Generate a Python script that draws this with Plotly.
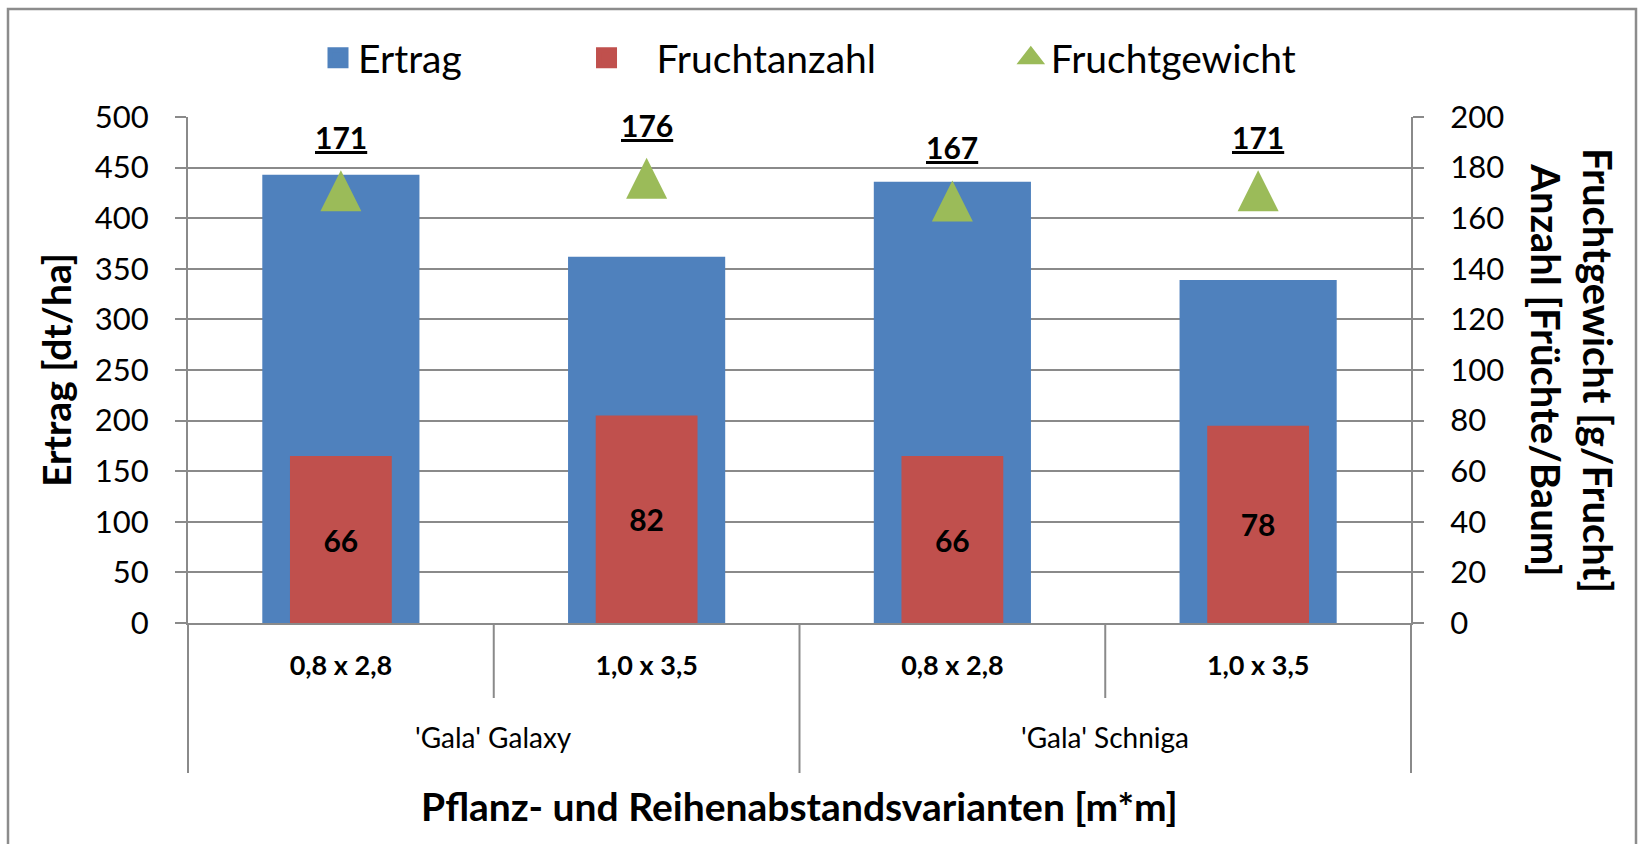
import plotly.graph_objects as go

# ---------------- data ----------------
groups = ["'Gala' Galaxy", "'Gala' Galaxy", "'Gala' Schniga", "'Gala' Schniga"]
spacings = ["0,8 x 2,8", "1,0 x 3,5", "0,8 x 2,8", "1,0 x 3,5"]
ertrag = [443, 362, 436, 339]            # dt/ha (left axis)
fruchtanzahl = [66, 82, 66, 78]          # Früchte/Baum (right axis)
fruchtgewicht = [171, 176, 167, 171]     # g/Frucht (right axis)
left_ticks = [0, 50, 100, 150, 200, 250, 300, 350, 400, 450, 500]
right_ticks = [0, 20, 40, 60, 80, 100, 120, 140, 160, 180, 200]

# ---------------- style ----------------
FONT = "Lato, 'Open Sans', 'Noto Sans', sans-serif"
BLUE = "#4F81BD"
RED = "#C0504D"
GREEN = "#9BBB59"
GRID = "#8A8A8A"
TXT = "#000000"
NB = "\u00a0"

W, H = 1642, 844
ML, MR, MT, MB = 188, 231, 117, 221
PW, PH = W - ML - MR, H - MT - MB

def px_x(p):
    return (p - ML) / PW

def px_y(p):
    return (H - MB - p) / PH

xs = list(range(len(spacings)))
n = len(xs)

fig = go.Figure()

fig.add_trace(go.Bar(
    x=xs, y=ertrag, name="Ertrag", yaxis="y",
    marker=dict(color=BLUE, line=dict(width=0)), width=0.514,
    showlegend=False, hoverinfo="y"))

fig.add_trace(go.Bar(
    x=xs, y=fruchtanzahl, name="Fruchtanzahl", yaxis="y2",
    marker=dict(color=RED, line=dict(width=0)), width=0.333,
    text=[f"<b>{v}</b>" for v in fruchtanzahl], textposition="inside",
    insidetextanchor="middle", textangle=0, constraintext="none",
    textfont=dict(family=FONT, size=30, color=TXT),
    showlegend=False, hoverinfo="y"))

# triangle of equal width and height, centred on the value
fig.add_trace(go.Scatter(
    x=xs, y=fruchtgewicht, name="Fruchtgewicht", yaxis="y2", mode="markers",
    marker=dict(symbol="arrow-down", angle=180, size=41, color=GREEN, standoff=20,
                line=dict(width=0)),
    showlegend=False, hoverinfo="y"))

# legend entries
fig.add_trace(go.Scatter(x=[None], y=[None], mode="markers", name="Ertrag" + NB * 12,
                         marker=dict(symbol="square", size=16, color=BLUE,
                                     line=dict(color=BLUE, width=5))))
fig.add_trace(go.Scatter(x=[None], y=[None], mode="markers", yaxis="y2",
                         name=NB * 3 + "Fruchtanzahl" + NB * 13,
                         marker=dict(symbol="square", size=16, color=RED,
                                     line=dict(color=RED, width=5))))
fig.add_trace(go.Scatter(x=[None], y=[None], mode="markers", yaxis="y2",
                         name="Fruchtgewicht",
                         marker=dict(symbol="triangle-up", size=16, color=GREEN,
                                     line=dict(color=GREEN, width=5))))

annotations = []
for i, v in enumerate(fruchtgewicht):
    annotations.append(dict(
        x=xs[i], y=v, xref="x", yref="y2", yshift=53, showarrow=False,
        text=f"<b><span style='text-decoration:underline'>{v}</span></b>",
        font=dict(family=FONT, size=30, color=TXT)))

# group labels (second level of the category axis)
seen = []
for g in groups:
    if g not in seen:
        seen.append(g)
for g in seen:
    idx = [i for i, gg in enumerate(groups) if gg == g]
    cx = (sum(idx) / len(idx) + 0.5) / n
    annotations.append(dict(
        x=cx, y=px_y(737), xref="paper", yref="paper", showarrow=False,
        text=g, font=dict(family=FONT, size=28, color=TXT),
        xanchor="center", yanchor="middle"))

# axis titles
annotations.append(dict(
    x=px_x(56), y=px_y(370), xref="paper", yref="paper", showarrow=False,
    text="<b>Ertrag [dt/ha]</b>", textangle=-90,
    font=dict(family=FONT, size=39, color=TXT), xanchor="center", yanchor="middle"))
annotations.append(dict(
    x=px_x(1572), y=px_y(370), xref="paper", yref="paper", showarrow=False,
    text="<b>Fruchtgewicht [g/Frucht]<br>Anzahl [Früchte/Baum]</b>", textangle=90,
    font=dict(family=FONT, size=40, color=TXT), xanchor="center", yanchor="middle"))
annotations.append(dict(
    x=0.5, y=px_y(806), xref="paper", yref="paper", showarrow=False,
    text="<b>Pflanz- und Reihenabstandsvarianten [m*m]</b>",
    font=dict(family=FONT, size=39, color=TXT), xanchor="center", yanchor="middle"))

# category divider lines below the x axis
shapes = []
for b in range(n + 1):
    edge = b == 0 or b == n or groups[b - 1] != groups[b]
    shapes.append(dict(
        type="line", xref="paper", yref="paper", x0=b / n, x1=b / n,
        y0=0, y1=px_y(773) if edge else px_y(698),
        line=dict(color=GRID, width=2)))
# chart border
shapes.append(dict(
    type="rect", xref="paper", yref="paper",
    x0=px_x(8), x1=px_x(1636), y0=px_y(860), y1=px_y(9),
    line=dict(color="#8C8C8C", width=2.5), fillcolor="rgba(0,0,0,0)", layer="below"))

fig.update_layout(
    width=W, height=H,
    margin=dict(l=ML, r=MR, t=MT, b=MB, pad=0),
    paper_bgcolor="white", plot_bgcolor="white",
    barmode="overlay",
    font=dict(family=FONT, color=TXT),
    showlegend=True,
    legend=dict(orientation="h", x=px_x(318), xanchor="left",
                y=px_y(58), yanchor="middle",
                font=dict(family=FONT, size=39, color=TXT),
                bgcolor="rgba(0,0,0,0)", itemclick=False, itemdoubleclick=False),
    xaxis=dict(
        range=[-0.5, n - 0.5], tickmode="array", tickvals=xs, ticktext=spacings,
        showgrid=False, zeroline=False, showline=True, linecolor=GRID, linewidth=2,
        ticks="", ticklabelstandoff=18,
        tickfont=dict(family=FONT, size=27, color=TXT, weight="bold"), fixedrange=True),
    yaxis=dict(
        range=[0, 500], tickmode="array", tickvals=left_ticks,
        showgrid=True, gridcolor=GRID, gridwidth=2, zeroline=False,
        showline=True, linecolor=GRID, linewidth=2,
        ticks="outside", ticklen=11, tickcolor=GRID, tickwidth=2, ticklabelstandoff=20,
        tickfont=dict(family=FONT, size=31, color=TXT), fixedrange=True),
    yaxis2=dict(
        range=[0, 200], tickmode="array", tickvals=right_ticks, overlaying="y", side="right",
        showgrid=False, zeroline=False, showline=True, linecolor=GRID, linewidth=2,
        ticks="outside", ticklen=11, tickcolor=GRID, tickwidth=2, ticklabelstandoff=20,
        tickfont=dict(family=FONT, size=31, color=TXT), fixedrange=True),
    annotations=annotations,
    shapes=shapes,
)

fig.write_html(
    "out.html",
    config={"displayModeBar": False},
    post_script=("document.body.style.margin='0';"
                 "document.body.style.overflow='hidden';"
                 "document.documentElement.style.overflow='hidden';"),
)
